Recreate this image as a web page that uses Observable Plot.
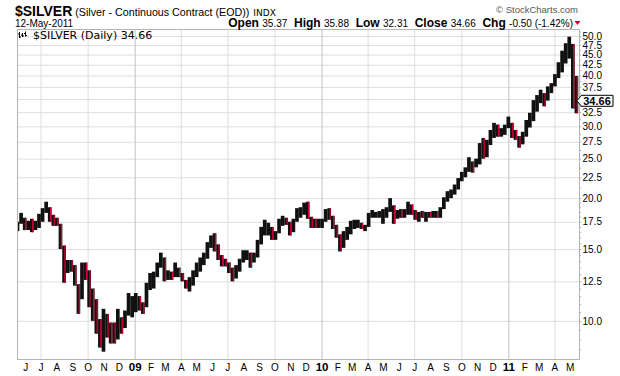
<!DOCTYPE html>
<html>
<head>
<meta charset="utf-8">
<script src="https://cdn.jsdelivr.net/npm/d3@7"></script>
<script src="https://cdn.jsdelivr.net/npm/@observablehq/plot@0.6"></script>
<style>
  html, body { margin: 0; padding: 0; background: #fff; }
  #chart { position: relative; width: 620px; height: 376px; overflow: hidden; }
</style>
</head>
<body>
<div id="chart"></div>
<script>
// Weekly bars (first week ending 2008-05-16)
const firstWeek = "2008-05-16";
const high = [
17.5,18.4,17.9,17.6,17.8,17.6,18.3,18.9,19.6,19.0,18.2,17.9,17.3,15.3,14.1,14.1,13.7,12.3,13.9,13.9,
13.3,12.0,11.3,10.1,10.7,10.4,9.9,9.9,10.7,10.2,10.6,11.7,11.5,11.7,11.5,11.1,12.4,13.1,13.2,13.9,
14.7,14.3,13.3,13.2,13.9,13.5,13.1,12.6,12.8,13.3,13.9,14.3,14.7,15.6,16.2,16.4,15.4,14.5,14.2,13.9,
13.5,13.7,14.2,14.9,14.9,14.7,14.7,15.8,17.0,17.7,17.4,17.0,16.6,17.8,18.1,17.9,17.5,17.8,18.9,19.0,
19.5,19.6,18.0,17.8,17.8,17.8,18.8,18.9,18.1,17.2,16.3,16.6,17.0,17.6,17.7,17.7,17.4,17.2,18.4,18.7,
18.5,18.6,18.8,19.0,20.0,19.2,18.7,18.8,18.8,19.6,19.3,18.7,18.5,18.6,18.5,18.5,18.6,18.6,19.0,20.1,
20.8,21.0,21.6,22.4,23.2,23.8,25.2,24.6,25.0,27.3,28.1,27.8,29.4,30.6,30.3,29.7,30.3,31.7,30.6,29.4,
28.4,29.1,31.1,32.4,34.8,35.8,36.9,36.2,37.6,38.3,40.3,43.1,46.0,48.0,49.8,47.8,39.9];
const low = [
16.6,17.3,16.7,16.7,16.5,16.7,16.9,17.5,18.4,17.5,17.1,17.1,15.0,12.4,13.1,13.2,12.2,10.4,11.3,12.6,
10.8,10.0,9.3,8.6,8.4,9.1,8.8,8.8,9.0,9.3,9.6,10.3,10.2,10.5,10.6,10.4,10.8,11.9,12.0,12.8,
13.5,12.5,12.6,12.6,12.8,12.8,12.5,12.0,11.8,12.2,12.8,13.2,13.7,14.2,15.1,14.8,14.1,13.6,13.6,13.1,
12.5,12.7,13.2,13.9,14.1,13.5,13.9,14.3,15.4,16.2,16.2,15.8,15.8,16.4,17.1,17.2,16.2,16.5,17.5,17.9,
18.2,17.8,16.9,16.9,16.9,16.9,17.5,17.7,16.8,16.0,14.8,15.1,15.8,16.3,16.8,16.9,16.8,16.6,17.0,17.9,
17.9,17.9,17.3,17.9,18.5,17.3,17.8,17.9,17.9,18.2,18.2,17.7,17.5,17.9,17.5,17.9,17.9,17.9,17.9,18.8,
19.6,20.0,20.4,21.0,22.0,22.5,23.2,23.1,23.8,24.2,25.0,25.2,27.0,28.1,28.3,28.3,28.6,29.7,28.1,27.8,
26.6,27.1,28.3,29.8,30.9,32.6,34.2,33.6,34.7,36.2,37.6,39.4,40.7,42.8,44.0,33.2,32.3];
const close = [
17.2,18.1,17.0,17.3,17.0,17.4,17.9,18.7,19.3,17.9,17.5,17.4,15.3,13.0,13.8,13.4,12.4,11.0,13.2,13.0,
11.3,10.3,9.6,8.9,10.2,9.6,9.2,9.0,10.2,9.6,10.3,11.0,11.2,11.2,11.0,10.8,12.1,12.6,13.0,13.5,
14.1,13.0,13.0,12.8,13.3,13.1,12.6,12.2,12.2,13.1,13.7,14.0,14.2,15.3,15.7,15.4,14.4,14.0,13.9,13.3,
12.8,13.4,13.9,14.4,14.6,14.0,14.5,15.5,16.2,17.0,17.0,16.2,16.4,17.6,17.6,17.5,16.5,17.6,18.6,18.7,
19.0,18.0,17.4,17.2,17.4,17.5,18.6,18.1,16.9,16.2,15.1,15.9,16.3,17.1,17.1,17.2,16.9,17.0,17.9,18.2,
18.2,18.5,18.6,18.6,19.2,17.8,18.3,18.2,18.5,19.1,18.7,17.9,18.1,18.0,18.2,18.0,18.2,18.1,18.9,19.6,
20.3,20.6,21.1,22.0,22.9,23.3,24.5,24.0,24.7,26.8,26.6,27.0,28.3,29.5,28.8,29.2,29.6,30.6,28.5,28.3,
27.1,28.3,29.8,30.9,32.6,34.5,35.9,34.7,37.2,37.8,39.8,40.7,42.8,46.9,47.8,35.3,34.66];

const yLabels = [10, 12.5, 15, 17.5, 20, 22.5, 25, 27.5, 30, 32.5, 37.5, 40, 42.5, 45, 47.5, 50];
const yGrid = [10, 12.5, 15, 17.5, 20, 22.5, 25, 27.5, 30, 32.5, 35, 37.5, 40, 42.5, 45, 47.5, 50];
const monthLetters = ["J","F","M","A","M","J","J","A","S","O","N","D"];
const lastClose = 34.66;
const titleMain = "$SILVER";
const titleSub = " (Silver - Continuous Contract (EOD))";
const titleExch = "INDX";
const dateText = "12-May-2011";
const quote = [["Open", "35.37"], ["High", "35.88"], ["Low", "32.31"], ["Close", "34.66"], ["Chg", "-0.50 (-1.42%)"]];
const legendText = "$SILVER (Daily) 34.66";
const credit = "\u00A9 StockCharts.com";

const RED = "#cc0033";
const FONT = "'Liberation Sans', Arial, sans-serif";
const start = new Date(firstWeek + "T00:00:00Z");
const bars = close.map((c, i) => ({
  date: d3.utcDay.offset(start, 7 * i),
  high: high[i], low: low[i], close: c,
  down: i > 0 && c < close[i - 1]
}));

const xDomain = [new Date("2008-05-16T00:00:00Z"), new Date("2011-05-19T00:00:00Z")];
const months = d3.utcMonth.range(new Date("2008-06-01T00:00:00Z"), new Date("2011-06-01T00:00:00Z"));
const monthsPlain = months.filter(d => d.getUTCMonth() !== 0);
const years = months.filter(d => d.getUTCMonth() === 0);
const quarters = d3.utcMonth.range(new Date("2008-07-01T00:00:00Z"), new Date("2011-05-01T00:00:00Z"), 3);
const minor = d3.range(8.5, 20, 0.5).concat(d3.range(20, 52, 1.25));
const tickEnd = d3.utcDay.offset(xDomain[1], 4);

const plot = Plot.plot({
  width: 620, height: 376,
  marginLeft: 17, marginRight: 41, marginTop: 29, marginBottom: 17,
  style: {fontFamily: FONT, background: "#fff", color: "#000", overflow: "visible"},
  x: {type: "utc", domain: xDomain, axis: null},
  y: {type: "log", domain: [8.06, 52], axis: "right", ticks: yLabels, tickFormat: d => d.toFixed(1),
      tickSize: 0, tickPadding: 3, fontSize: 10, label: null},
  marks: [
    Plot.ruleY(yGrid, {stroke: "#dedede", strokeWidth: 1}),
    Plot.ruleX(quarters, {stroke: d => d.getUTCMonth() === 0 ? "#c4c4c4" : "#dedede", strokeWidth: 1}),
    Plot.ruleY(minor, {x1: xDomain[1], x2: tickEnd, stroke: "#aaa"}),
    Plot.ruleX(bars, {x: "date", y1: "low", y2: "high", stroke: "#111", strokeWidth: 3.7, clip: true}),
    Plot.ruleX(bars.filter(b => b.down), {x: "date", y1: "low", y2: "high", stroke: RED, strokeWidth: 1.3, dx: 0.9, clip: true}),
    Plot.frame({stroke: "#b4b4b4"}),
    Plot.text(monthsPlain, {x: d => d, text: d => monthLetters[d.getUTCMonth()], frameAnchor: "bottom",
      lineAnchor: "top", dy: 4, fontSize: 10, fill: "#000"}),
    Plot.text(years, {x: d => d, text: d => String(d.getUTCFullYear()).slice(2), frameAnchor: "bottom",
      lineAnchor: "top", dy: 3, fontSize: 11.5, fontWeight: "bold", fill: "#000"})
  ]
});
document.getElementById("chart").appendChild(plot);

const svg = d3.select(plot);
const ys = plot.scale("y"), xs = plot.scale("x");
const xr = xs.apply(xDomain[1]);
const yc = ys.apply(lastClose);

// price marker
svg.append("path")
  .attr("d", `M${xr - 2},${yc} L${xr + 2},${yc - 5} L${xr + 2},${yc - 5.5} L${xr + 34},${yc - 5.5} L${xr + 34},${yc + 5.5} L${xr + 2},${yc + 5.5} L${xr + 2},${yc + 5} Z`)
  .attr("fill", "#fff").attr("stroke", "#000").attr("stroke-width", 1);
svg.append("text").attr("x", xr + 18).attr("y", yc + 4).attr("text-anchor", "middle")
  .attr("font-family", FONT).attr("font-size", 11).attr("font-weight", "bold")
  .text(lastClose.toFixed(2));

// title line
const t1 = svg.append("text").attr("x", 15).attr("y", 16).attr("text-anchor", "start")
  .attr("font-family", FONT).attr("fill", "#000");
t1.append("tspan").attr("font-size", 14).attr("font-weight", "bold").text(titleMain);
t1.append("tspan").attr("font-size", 10.7).text(titleSub);
t1.append("tspan").attr("dx", 4).attr("font-family", "'DejaVu Sans', sans-serif").attr("font-size", 9).text(titleExch);

svg.append("text").attr("x", 578).attr("y", 13).attr("text-anchor", "end")
  .attr("font-family", FONT).attr("font-size", 9.5).attr("fill", "#555").text(credit);

svg.append("text").attr("x", 15).attr("y", 27).attr("text-anchor", "start").attr("font-family", FONT)
  .attr("font-size", 10).attr("fill", "#000").text(dateText);

const q = svg.append("text").attr("x", 573).attr("y", 26.5).attr("text-anchor", "end")
  .attr("font-family", FONT).attr("fill", "#000").style("white-space", "pre");
quote.forEach(([k, v], i) => {
  q.append("tspan").attr("font-size", 12).attr("font-weight", "bold").text((i ? "  " : "") + k + " ");
  q.append("tspan").attr("font-size", 10).text(v);
});
svg.append("path").attr("d", "M574.5,21 L580.5,21 L577.5,25 Z").attr("fill", RED);

// legend inside the plot
const lg = svg.append("g").attr("stroke", "#000").attr("stroke-width", 1);
[[19.5, 32, 38], [22.5, 33, 37], [25.5, 31.5, 36.5]].forEach(([x, a, b]) => {
  lg.append("line").attr("x1", x).attr("x2", x).attr("y1", a).attr("y2", b);
  lg.append("line").attr("x1", x - 1.5).attr("x2", x).attr("y1", a + 2).attr("y2", a + 2);
  lg.append("line").attr("x1", x).attr("x2", x + 1.5).attr("y1", b - 1).attr("y2", b - 1);
});
svg.append("text").attr("x", 33).attr("y", 38.5).attr("text-anchor", "start")
  .attr("font-family", "'DejaVu Sans', Verdana, sans-serif")
  .attr("font-size", 11).attr("fill", "#000").text(legendText);
</script>
</body>
</html>
